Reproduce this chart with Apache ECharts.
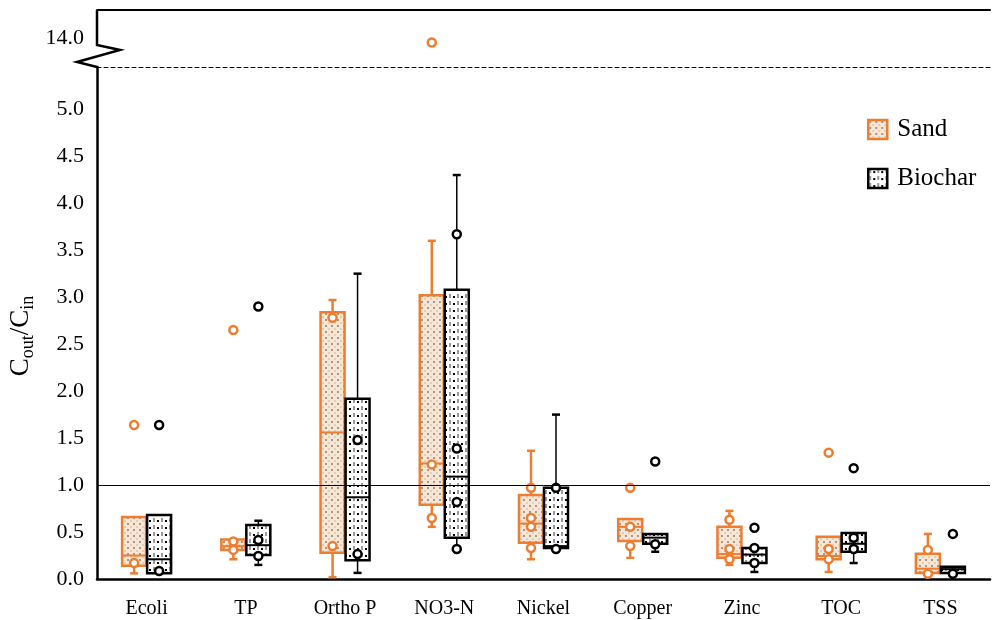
<!DOCTYPE html>
<html>
<head>
<meta charset="utf-8">
<script src="https://cdn.jsdelivr.net/npm/echarts@6/dist/echarts.min.js"></script>
<style>
  html, body { margin: 0; padding: 0; background: #fff; }
  #main { width: 993px; height: 620px; }
</style>
</head>
<body>
<div id="main"></div>
<script>
// categories on the x axis
var categories = ['Ecoli', 'TP', 'Ortho P', 'NO3-N', 'Nickel', 'Copper', 'Zinc', 'TOC', 'TSS'];

// box stats per category: [low whisker, Q1, median, Q3, high whisker]
var sandBox = [
  [0.06, 0.14, 0.25, 0.66, 0.66],
  [0.21, 0.31, 0.35, 0.42, 0.42],
  [0.02, 0.28, 1.56, 2.84, 2.97],
  [0.555, 0.79, 1.23, 3.02, 3.60],
  [0.21, 0.385, 0.59, 0.895, 1.365],
  [0.225, 0.405, 0.555, 0.64, 0.64],
  [0.15, 0.225, 0.265, 0.555, 0.725],
  [0.075, 0.21, 0.245, 0.45, 0.45],
  [0.065, 0.065, 0.11, 0.27, 0.48]
];
var biocharBox = [
  [0.06, 0.06, 0.21, 0.68, 0.68],
  [0.15, 0.255, 0.36, 0.575, 0.62],
  [0.065, 0.20, 0.87, 1.92, 3.25],
  [0.32, 0.44, 1.09, 3.08, 4.30],
  [0.32, 0.33, 0.35, 0.97, 1.75],
  [0.29, 0.375, 0.44, 0.48, 0.48],
  [0.075, 0.17, 0.26, 0.33, 0.33],
  [0.17, 0.29, 0.375, 0.49, 0.49],
  [0.065, 0.065, 0.105, 0.13, 0.13]
];

// single measurements (circles): [category index, value]
var sandPoints = [
  [0, 0.17], [0, 1.64],
  [1, 0.40], [1, 0.31], [1, 2.65],
  [2, 2.78], [2, 0.35],
  [3, 1.22], [3, 0.65],
  [4, 0.97], [4, 0.65], [4, 0.555], [4, 0.33],
  [5, 0.97], [5, 0.555], [5, 0.35],
  [6, 0.63], [6, 0.32], [6, 0.21],
  [7, 1.345], [7, 0.32], [7, 0.21],
  [8, 0.31], [8, 0.055]
];
var biocharPoints = [
  [0, 0.085], [0, 1.64],
  [1, 0.415], [1, 0.245], [1, 2.90],
  [2, 1.48], [2, 0.265],
  [3, 3.67], [3, 1.39], [3, 0.82], [3, 0.32],
  [4, 0.97], [4, 0.32],
  [5, 0.37], [5, 1.25],
  [6, 0.33], [6, 0.17], [6, 0.545],
  [7, 0.44], [7, 0.32], [7, 1.18],
  [8, 0.055], [8, 0.48]
];
// point above the axis break
var sandHigh = [[3, 13.93]];

// tick labels
var upperTicks = [14.0];
var refLine = 1.0;

var ORANGE = '#ED7D31';
var FONT = 'Liberation Serif';

function makePattern(w, h, draw) {
  var c = document.createElement('canvas');
  c.width = w; c.height = h;
  draw(c.getContext('2d'));
  return { image: c, repeat: 'repeat' };
}
var sandFill = makePattern(6, 6, function (g) {
  g.fillStyle = '#f6e6d6'; g.fillRect(0, 0, 6, 6);
  g.fillStyle = '#a89888'; g.fillRect(1, 1, 2, 2);
  g.fillStyle = '#e8cdb4'; g.fillRect(4, 4, 2, 2);
});
var biocharFill = makePattern(8, 7, function (g) {
  g.fillStyle = '#ffffff'; g.fillRect(0, 0, 8, 7);
  g.fillStyle = '#9a9a9a'; g.fillRect(1, 0, 2, 4);
  g.fillStyle = '#000000'; g.fillRect(5, 2, 2, 2);
});

// box + whiskers drawn at an x offset from the category centre
function boxRenderer(offset, color, fill, whiskerW) {
  return function (params, api) {
    var c = api.value(0);
    var x = api.coord([c, 0])[0] + offset;
    var yLow = api.coord([c, api.value(1)])[1];
    var yQ1 = api.coord([c, api.value(2)])[1];
    var yMed = api.coord([c, api.value(3)])[1];
    var yQ3 = api.coord([c, api.value(4)])[1];
    var yHigh = api.coord([c, api.value(5)])[1];
    var hw = 12, cap = 4;
    function seg(x1, y1, x2, y2, w) {
      return { type: 'line', shape: { x1: x1, y1: y1, x2: x2, y2: y2 }, style: { stroke: color, lineWidth: w } };
    }
    var kids = [];
    if (yHigh < yQ3 - 0.5) {
      kids.push(seg(x, yQ3, x, yHigh, whiskerW), seg(x - cap, yHigh, x + cap, yHigh, 2.5));
    }
    if (yLow > yQ1 + 0.5) {
      kids.push(seg(x, yQ1, x, yLow, whiskerW), seg(x - cap, yLow, x + cap, yLow, 2.5));
    }
    kids.push({
      type: 'rect',
      shape: { x: x - hw, y: yQ3, width: hw * 2, height: Math.max(yQ1 - yQ3, 1) },
      style: { fill: fill, stroke: color, lineWidth: 2.5 }
    });
    kids.push(seg(x - hw, yMed, x + hw, yMed, 2));
    return { type: 'group', children: kids };
  };
}

function pointRenderer(offset, color) {
  return function (params, api) {
    var p = api.coord([api.value(0), api.value(1)]);
    return {
      type: 'circle',
      shape: { cx: p[0] + offset, cy: p[1], r: 4 },
      style: { fill: '#fff', stroke: color, lineWidth: 2.5 }
    };
  };
}

var chart = echarts.init(document.getElementById('main'));
var option = {
  animation: false,
  grid: [
    { left: 97, right: 3, top: 67, bottom: 41 },
    { left: 97, right: 3, top: 10, height: 57 }
  ],
  legend: {
    orient: 'vertical',
    left: 862,
    top: 112,
    itemWidth: 19,
    itemHeight: 19,
    itemGap: 24,
    icon: 'rect',
    textStyle: { fontFamily: FONT, fontSize: 25, color: '#000', padding: [0, 0, 0, 5] },
    data: [
      { name: 'Sand', itemStyle: { color: sandFill, borderColor: ORANGE, borderWidth: 2.5 } },
      { name: 'Biochar', itemStyle: { color: biocharFill, borderColor: '#000', borderWidth: 2.5 } }
    ]
  },
  xAxis: [
    {
      gridIndex: 0, type: 'category', data: categories,
      axisLine: { lineStyle: { color: '#000', width: 2.5 } },
      axisTick: { show: false },
      axisLabel: { fontFamily: FONT, fontSize: 20, color: '#000', margin: 20 }
    },
    {
      gridIndex: 1, type: 'category', data: categories, position: 'top',
      axisLine: { lineStyle: { color: '#000', width: 2 } },
      axisTick: { show: false }, axisLabel: { show: false }
    },
    {
      gridIndex: 1, type: 'category', data: categories, position: 'bottom',
      axisLine: { lineStyle: { color: '#000', width: 1, type: [4, 3] } },
      axisTick: { show: false }, axisLabel: { show: false }
    }
  ],
  yAxis: [
    {
      gridIndex: 0, type: 'value', min: 0, max: 5.45, interval: 0.5,
      axisLine: { show: true, lineStyle: { color: '#000', width: 2.5 } },
      axisTick: { show: false },
      splitLine: { show: false },
      axisLabel: {
        fontFamily: FONT, fontSize: 22, color: '#000', margin: 13, showMaxLabel: false,
        formatter: function (v) { return v.toFixed(1); }
      }
    },
    {
      gridIndex: 1, type: 'value', min: 13.5, max: 14.5, interval: 0.5,
      axisLine: { show: false },
      axisTick: { show: false },
      splitLine: { show: false },
      axisLabel: {
        fontFamily: FONT, fontSize: 22, color: '#000', margin: 13,
        formatter: function (v) { return upperTicks.indexOf(v) >= 0 ? v.toFixed(1) : ''; }
      }
    }
  ],
  graphic: [
    {
      type: 'polyline',
      shape: { points: [[97, 10], [97, 45], [120, 50], [77, 62], [97, 67]] },
      style: { stroke: '#000', lineWidth: 2.5, fill: null }
    },
    {
      type: 'text', x: 21, y: 336, rotation: Math.PI / 2,
      style: {
        text: '{a|C}{s|out}{a|/C}{s|in}',
        align: 'center', verticalAlign: 'middle', fill: '#000',
        rich: {
          a: { fontFamily: FONT, fontSize: 27, lineHeight: 32, verticalAlign: 'middle' },
          s: { fontFamily: FONT, fontSize: 18, lineHeight: 32, verticalAlign: 'bottom' }
        }
      }
    }
  ],
  series: [
    {
      name: 'Sand', type: 'custom', xAxisIndex: 0, yAxisIndex: 0,
      renderItem: boxRenderer(-12.5, ORANGE, sandFill, 2.5),
      encode: { x: 0, y: [1, 2, 3, 4, 5] },
      data: sandBox.map(function (r, i) { return [i].concat(r); })
    },
    {
      name: 'Biochar', type: 'custom', xAxisIndex: 0, yAxisIndex: 0,
      renderItem: boxRenderer(12.5, '#000', biocharFill, 1.5),
      encode: { x: 0, y: [1, 2, 3, 4, 5] },
      data: biocharBox.map(function (r, i) { return [i].concat(r); })
    },
    {
      name: 'Sand', type: 'custom', xAxisIndex: 0, yAxisIndex: 0,
      renderItem: pointRenderer(-12.5, ORANGE),
      encode: { x: 0, y: 1 },
      data: sandPoints
    },
    {
      name: 'Biochar', type: 'custom', xAxisIndex: 0, yAxisIndex: 0,
      renderItem: pointRenderer(12.5, '#000'),
      encode: { x: 0, y: 1 },
      data: biocharPoints,
      markLine: {
        silent: true, symbol: 'none', z: 10,
        label: { show: false },
        lineStyle: { color: '#000', width: 1, type: 'solid' },
        data: [{ yAxis: refLine }]
      }
    },
    {
      name: 'Sand', type: 'custom', xAxisIndex: 2, yAxisIndex: 1,
      renderItem: pointRenderer(-12.5, ORANGE),
      encode: { x: 0, y: 1 },
      data: sandHigh
    }
  ]
};
chart.setOption(option);
</script>
</body>
</html>
